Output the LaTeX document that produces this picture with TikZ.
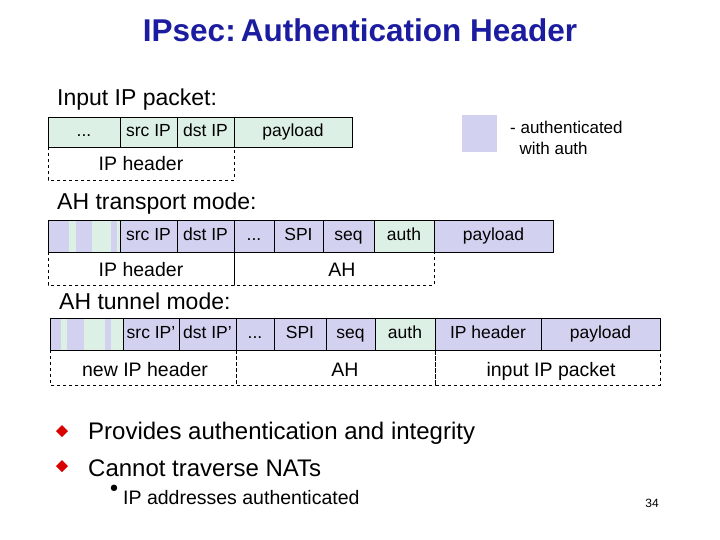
\documentclass[tikz,border=0pt]{standalone}
\usepackage{fontspec}
\setmainfont{Liberation Sans}
\newfontfamily\dejavu{DejaVu Sans}
\newcommand{\mydots}{...}
\begin{document}
\begin{tikzpicture}[x=1pt,y=-1pt,
  lbl/.style={font=\fontsize{17.5}{19}\selectfont,inner sep=0,text height=12pt,text depth=3pt},
  dlbl/.style={font=\fontsize{19.5}{21}\selectfont,inner sep=0,text height=13pt,text depth=3pt},
  dbox/.style={draw,dashed,thin},
  big/.style={font=\fontsize{23}{26}\selectfont,anchor=west,inner sep=0}]
\definecolor{ghc}{HTML}{DDF0E6}
\definecolor{phc}{HTML}{D2D2F0}
\definecolor{tblue}{HTML}{1C1CA0}
\useasboundingbox (0,0) rectangle (720,540);
\node[font=\bfseries\fontsize{31.5}{34}\selectfont,text=tblue] (title) at (360,30) {IPsec:\,Authentication Header};
% input packet
\node[big] (l1) at (57,100) {Input IP packet:};
\foreach \a/\b/\t/\n in {48/120/\mydots/a1,120/177/src IP/a2,177/234/dst IP/a3,234/352/payload/a4}{
  \draw[fill=ghc] (\a,117) rectangle (\b,147);
  \node[lbl] (\n) at ({(\a+\b)/2},132) {\t};}
\draw[dbox] (48,147) rectangle (234,180);
\node[dlbl] (h1) at (141,166) {IP header};
\fill[phc] (462,115) rectangle (497,152);
\node[inner sep=0,align=left,anchor=north west,font=\fontsize{17}{21}\selectfont] (leg) at (510,121) {- authenticated\\\ \ with auth};
% transport
\node[big] (l2) at (57,204) {AH transport mode:};
\fill[phc] (48,220) rectangle (120,252);
\fill[ghc] (69,220) rectangle (76,252);
\fill[ghc] (92,220) rectangle (111,252);
\fill[ghc] (117,220) rectangle (120,252);
\draw (48,220) rectangle (120,252);
\foreach \a/\b/\t/\n/\c in {120/177/src IP/b2/phc,177/234/dst IP/b3/phc,234/274/\mydots/b4/phc,274/323/SPI/b5/phc,323/374/seq/b6/phc,374/434/auth/b7/ghc,434/553/payload/b8/phc}{
  \draw[fill=\c] (\a,220) rectangle (\b,252);
  \node[lbl] (\n) at ({(\a+\b)/2},236) {\t};}
\draw[dbox] (48,252) rectangle (234,285);
\draw[dbox] (234,252) rectangle (434,285);
\node[dlbl] (h2) at (141,271) {IP header};
\node[dlbl] (h3) at (342,271) {AH};
% tunnel
\node[big] (l3) at (59,301) {AH tunnel mode:};
\fill[phc] (50,318) rectangle (123,350);
\fill[ghc] (61,318) rectangle (67,350);
\fill[ghc] (84,318) rectangle (105,350);
\fill[ghc] (111,318) rectangle (123,350);
\draw (50,318) rectangle (123,350);
\foreach \a/\b/\t/\n/\c in {123/179/src IP'/c2/phc,179/236/dst IP'/c3/phc,236/274/\mydots/c4/phc,274/326/SPI/c5/phc,326/375/seq/c6/phc,375/435/auth/c7/ghc,435/541/IP header/c8/phc,541/660/payload/c9/phc}{
  \draw[fill=\c] (\a,318) rectangle (\b,350);
  \node[lbl] (\n) at ({(\a+\b)/2},334) {\t};}
\draw[dbox] (50,350) rectangle (236,385);
\draw[dbox] (236,350) rectangle (435,385);
\draw[dbox] (435,350) rectangle (660,385);
\node[dlbl] (h4) at (145,371) {new IP header};
\node[dlbl] (h5) at (345,371) {AH};
\node[dlbl] (h6) at (551,371) {input IP packet};
% bullets
\fill[red!85!black] (62,425) -- (68,431) -- (62,437) -- (56,431) -- cycle;
\fill[red!85!black] (62,460) -- (68,466) -- (62,472) -- (56,466) -- cycle;
\node[big,font=\fontsize{24}{26}\selectfont] (t1) at (88,433) {Provides authentication and integrity};
\node[big,font=\fontsize{24}{26}\selectfont] (t2) at (88,468) {Cannot traverse NATs};
\node[font=\dejavu\fontsize{22}{22}\selectfont,inner sep=0] (sb) at (114,491) {•};
\node[big,font=\fontsize{19.5}{21}\selectfont] (t3) at (123,498) {IP addresses authenticated};
\node[font=\fontsize{12}{14}\selectfont,inner sep=0] (pg) at (652,503) {34};
\end{tikzpicture}
\end{document}
